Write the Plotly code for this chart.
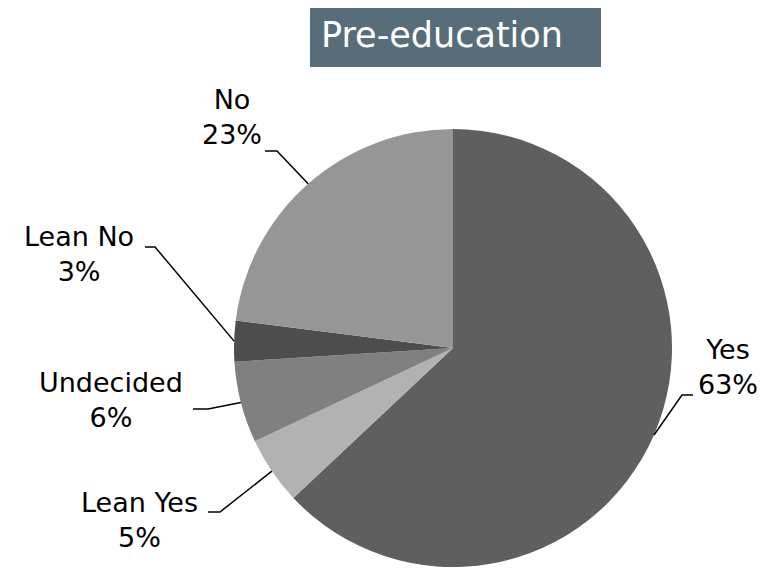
import numpy as np
import plotly.graph_objects as go

# dados
labels = ['Yes', 'Lean Yes', 'Undecided', 'Lean No', 'No']
values = [63, 5, 6, 3, 23]
colors = ['#5f5f5f', '#b2b2b2', '#808080', '#4d4d4d', '#969696']

W, H = 777, 572
OFF = 8  # margem padrao do body na pagina
CX, CY, R = 453 - OFF, 348 - OFF, 219  # centro / raio do pie em px

def px(x, y):
    # coordenadas da tela -> paper
    return (x - OFF) / W, 1 - (y - OFF) / H

# posicoes dos rotulos (px) e cotovelo das linhas
label_pos = {
    'Yes': (728, 367),
    'Lean Yes': (139, 520),
    'Undecided': (111, 400),
    'Lean No': (79, 254),
    'No': (232, 117),
}
elbows = {
    'Yes': [(682, 395), (693, 395)],
    'Lean Yes': [(220, 512), (208, 512)],
    'Undecided': [(208, 409), (193, 409)],
    'Lean No': [(155, 247), (145, 247)],
    'No': [(277, 151), (265, 151)],
}

fig = go.Figure(go.Pie(
    labels=labels,
    values=values,
    sort=False,
    direction='clockwise',
    rotation=0,
    marker=dict(colors=colors, line=dict(width=0)),
    textinfo='none',
    hoverinfo='label+percent',
    domain=dict(x=[(CX - R) / W, (CX + R) / W],
                y=[(H - CY - R) / H, (H - CY + R) / H]),
    showlegend=False,
))

# linhas de chamada a partir do meio de cada fatia
total = sum(values)
cum = np.cumsum([0] + values)
shapes = []
annotations = []
for i, lab in enumerate(labels):
    ang = np.deg2rad((cum[i] + values[i] / 2) / total * 360)
    ex, ey = CX + OFF + R * np.sin(ang), CY + OFF - R * np.cos(ang)
    pts = [(ex, ey)] + elbows[lab]
    path = 'M ' + ' L '.join('%.4f,%.4f' % px(x, y) for x, y in pts)
    shapes.append(dict(type='path', xref='paper', yref='paper', path=path,
                       line=dict(color='black', width=1.5)))
    lx, ly = px(*label_pos[lab])
    pct = round(values[i] / total * 100)
    annotations.append(dict(x=lx, y=ly, xref='paper', yref='paper',
                            text=f'{lab}<br>{pct}%', showarrow=False,
                            xanchor='center', yanchor='middle',
                            font=dict(family='DejaVu Sans', size=27, color='black')))

# caixa do titulo
x0, y0 = px(310, 67)
x1, y1 = px(601, 3)
shapes.append(dict(type='rect', xref='paper', yref='paper', x0=x0, y0=y0, x1=x1, y1=y1,
                   fillcolor='#576d7a', line=dict(width=0), layer='below'))
tx, ty = px(442, 35)
annotations.append(dict(x=tx, y=ty, xref='paper', yref='paper', text='Pre-education',
                        showarrow=False, xanchor='center', yanchor='middle',
                        font=dict(family='DejaVu Sans', size=35, color='white')))

fig.update_layout(
    width=W, height=H,
    margin=dict(l=0, r=0, t=0, b=0),
    paper_bgcolor='white',
    plot_bgcolor='white',
    shapes=shapes,
    annotations=annotations,
)

fig.write_html('out.html')
